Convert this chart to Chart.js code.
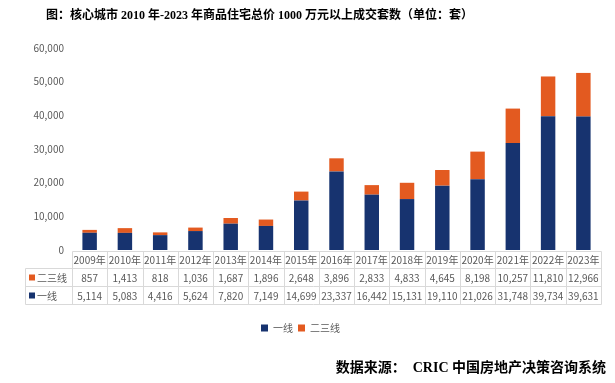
<!DOCTYPE html>
<html>
<head>
<meta charset="utf-8">
<script src="https://cdn.jsdelivr.net/npm/chart.js@4.4.1/dist/chart.umd.min.js"></script>
<style>
  html, body { margin: 0; padding: 0; background: #fff; }
  #wrap { width: 615px; height: 383px; position: relative; }
</style>
</head>
<body>
<div id="wrap"><canvas id="chart"></canvas></div>
<script>
// ===============================
// DATA
// ===============================

const years = ["2009年", "2010年", "2011年", "2012年", "2013年", "2014年", "2015年", "2016年",
               "2017年", "2018年", "2019年", "2020年", "2021年", "2022年", "2023年"];
const tier1 = [5114, 5083, 4416, 5624, 7820, 7149, 14699, 23337, 16442, 15131, 19110, 21026, 31748, 39734, 39631];
const tier23 = [857, 1413, 818, 1036, 1687, 1896, 2648, 3896, 2833, 4833, 4645, 8198, 10257, 11810, 12966];
const yTicks = [0, 10000, 20000, 30000, 40000, 50000, 60000];

const titleText = "图：核心城市 2010 年-2023 年商品住宅总价 1000 万元以上成交套数（单位：套）";
const sourceText = "数据来源：  CRIC 中国房地产决策咨询系统";

const BLUE = "#17336F";
const ORANGE = "#E35A20";
const GRAY = "#595959";
const LINE = "#D9D9D9";
const FONT = "'Noto Sans CJK SC', 'Noto Sans', sans-serif";
const BOLD_FONT = "'Liberation Serif', 'Noto Sans CJK SC', serif";

const fmt = v => v.toLocaleString("en-US");


// ===============================
// TABLE + TEXT PLUGIN
// ===============================

const tablePlugin = {
  id: "dataTable",
  afterDraw(chart) {
    const ctx = chart.ctx;
    const x = chart.scales.x;
    const area = chart.chartArea;
    const colW = x.width / years.length;
    const top = area.bottom + 1.5;
    const rowH = [17, 18, 18];
    const headLeft = 25.5;

    // rows shown in the table, top to bottom
    const rows = [
      { label: "二三线", color: ORANGE, values: tier23 },
      { label: "一线", color: BLUE, values: tier1 }
    ];

    ctx.save();
    ctx.strokeStyle = LINE;
    ctx.lineWidth = 1;
    ctx.font = "10px " + FONT;
    ctx.fillStyle = GRAY;
    ctx.textBaseline = "middle";
    ctx.textAlign = "center";

    const left = Math.round(x.left) + 0.5;
    const right = Math.round(x.right) + 0.5;
    const bottom = top + rowH[0] + rowH[1] + rowH[2];

    // horizontal lines
    ctx.beginPath();
    ctx.moveTo(left, top);
    ctx.lineTo(right, top);
    let y = top + rowH[0];
    ctx.moveTo(headLeft, y);
    ctx.lineTo(right, y);
    y += rowH[1];
    ctx.moveTo(headLeft, y);
    ctx.lineTo(right, y);
    y += rowH[2];
    ctx.moveTo(headLeft, y);
    ctx.lineTo(right, y);

    // vertical lines
    ctx.moveTo(headLeft, top + rowH[0]);
    ctx.lineTo(headLeft, bottom);
    for (let i = 0; i <= years.length; i++) {
      const vx = Math.round(x.left + i * colW) + 0.5;
      ctx.moveTo(vx, top);
      ctx.lineTo(vx, bottom);
    }
    ctx.stroke();

    // header row
    years.forEach((yr, i) => {
      ctx.fillText(yr, x.getPixelForValue(i), top + rowH[0] / 2 + 0.5);
    });

    // data rows
    let rowTop = top + rowH[0];
    rows.forEach((row, r) => {
      const h = rowH[r + 1];
      const cy = rowTop + h / 2 + 0.5;
      row.values.forEach((v, i) => {
        ctx.fillStyle = GRAY;
        ctx.fillText(fmt(v), x.getPixelForValue(i), cy);
      });
      ctx.fillStyle = row.color;
      ctx.fillRect(29, cy - 3.5, 6, 6);
      ctx.fillStyle = GRAY;
      ctx.textAlign = "left";
      ctx.fillText(row.label, 37, cy);
      ctx.textAlign = "center";
      rowTop += h;
    });

    // title and source
    ctx.fillStyle = "#000";
    ctx.textAlign = "left";
    ctx.font = "bold 12px " + BOLD_FONT;
    ctx.fillText(titleText, 46, 16);

    ctx.textAlign = "right";
    ctx.font = "bold 14px " + BOLD_FONT;
    ctx.fillText(sourceText, 606, 368);
    ctx.restore();
  }
};


// ===============================
// CHART
// ===============================

new Chart(document.getElementById("chart"), {
  type: "bar",
  data: {
    labels: years,
    datasets: [
      {
        label: "一线",
        data: tier1,
        backgroundColor: BLUE,
        barPercentage: 0.41,
        categoryPercentage: 1
      },
      {
        label: "二三线",
        data: tier23,
        backgroundColor: ORANGE,
        barPercentage: 0.41,
        categoryPercentage: 1
      }
    ]
  },
  options: {
    responsive: true,
    maintainAspectRatio: false,
    animation: false,
    layout: {
      padding: { top: 48, right: 14, bottom: 40, left: 0 }
    },
    plugins: {
      title: { display: false },
      tooltip: { enabled: false },
      legend: {
        position: "bottom",
        labels: {
          boxWidth: 7,
          boxHeight: 7,
          padding: 5,
          color: GRAY,
          font: { size: 10, family: FONT }
        }
      }
    },
    scales: {
      x: {
        stacked: true,
        grid: { display: false },
        border: { display: false },
        ticks: { display: false },
        afterFit(scale) { scale.height = 68; }
      },
      y: {
        stacked: true,
        min: 0,
        max: 60000,
        afterBuildTicks(scale) { scale.ticks = yTicks.map(v => ({ value: v })); },
        grid: { display: false, drawTicks: false },
        border: { display: false },
        ticks: {
          padding: 8,
          color: GRAY,
          font: { size: 10, family: FONT },
          callback: v => fmt(v)
        },
        afterFit(scale) { scale.width = 72; }
      }
    }
  },
  plugins: [tablePlugin]
});
</script>
</body>
</html>
